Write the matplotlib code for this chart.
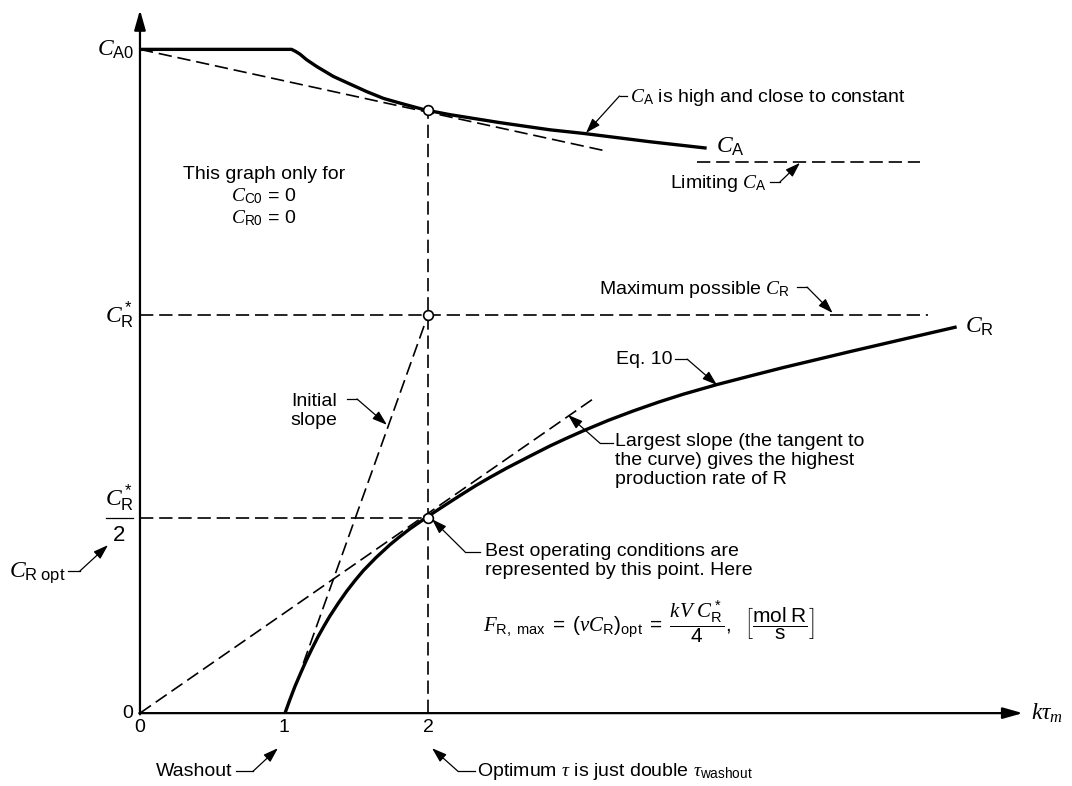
import matplotlib.pyplot as plt

plt.rcParams['font.family'] = ['Liberation Sans', 'DejaVu Sans']
plt.rcParams['mathtext.fontset'] = 'custom'
plt.rcParams['mathtext.rm'] = 'Liberation Sans'
plt.rcParams['mathtext.sf'] = 'Liberation Sans'
plt.rcParams['mathtext.it'] = 'Liberation Serif:italic'
plt.rcParams['mathtext.bf'] = 'Liberation Sans:bold'

# datos (x = k*tau_m, y en unidades de C_R*)
ca_x = [0.0, 1.053, 1.08, 1.111, 1.157, 1.227, 1.343, 1.458, 1.574, 1.69, 1.806, 1.979,
        2.153, 2.5, 2.847, 3.078, 3.542, 3.935]
ca_y = [1.667, 1.667, 1.662, 1.655, 1.641, 1.624, 1.599, 1.580, 1.561, 1.544, 1.532, 1.515,
        1.503, 1.483, 1.465, 1.456, 1.435, 1.419]

cr_x = [1.007, 1.04, 1.076, 1.12, 1.157, 1.20, 1.238, 1.28, 1.319, 1.377, 1.435, 1.493,
        1.551, 1.64, 1.736, 1.80, 1.875, 1.991, 2.1, 2.22, 2.33, 2.43, 2.55, 2.7,
        2.847, 2.96, 3.078, 3.25, 3.426, 3.6, 3.773, 4.005, 4.24, 4.468, 4.7, 4.931,
        5.3, 5.671]
cr_y = [0.0, 0.033, 0.067, 0.104, 0.134, 0.166, 0.193, 0.220, 0.244, 0.276, 0.306, 0.333,
        0.358, 0.391, 0.423, 0.442, 0.463, 0.492, 0.518, 0.546, 0.571, 0.592, 0.616, 0.644,
        0.671, 0.690, 0.709, 0.735, 0.759, 0.781, 0.801, 0.825, 0.847, 0.868, 0.888, 0.908,
        0.939, 0.970]

ca0 = 1.667
cr_star = 1.0
cr_opt = 0.49
ca_at_opt = 1.515
ca_limit = 1.384
k_tau_opt = 2.0

ca_tangent_x = [0.0, 3.22]
ca_tangent_y = [1.667, 1.413]
init_slope_x = [1.134, 2.0]
init_slope_y = [0.125, 1.0]
max_slope_x = [0.0, 3.15]
max_slope_y = [0.0, 0.79]
limit_x = [3.866, 5.417]
crmax_x = [0.0, 5.472]

tick_vals = [0, 1, 2]

fig = plt.figure(figsize=(10.72, 7.86), dpi=100)
ax = fig.add_axes([0, 0, 1, 1])
ax.set_xlim(-0.972, 6.472)
ax.set_ylim(-0.183, 1.791)
ax.axis('off')

fs = 14
fm = 17
dash = dict(color='k', lw=1.2, linestyle=(0, (8, 3.5)))
arr = dict(arrowstyle='-|>,head_length=0.45,head_width=0.15', color='k', lw=0.9,
           mutation_scale=20, shrinkA=0, shrinkB=0)
axis_arr = dict(arrowstyle='-|>,head_length=0.6,head_width=0.17', color='k',
                lw=1.6, mutation_scale=20, shrinkA=0, shrinkB=0)

# ejes
ax.annotate('', xy=(0, 1.766), xytext=(0, -0.003), arrowprops=axis_arr)
ax.annotate('', xy=(6.13, 0), xytext=(-0.005, 0), arrowprops=axis_arr)

# lineas auxiliares
ax.plot(ca_tangent_x, ca_tangent_y, **dash)
ax.plot(limit_x, [ca_limit, ca_limit], **dash)
ax.plot(crmax_x, [cr_star, cr_star], **dash)
ax.plot([0, k_tau_opt], [cr_opt, cr_opt], **dash)
ax.plot([k_tau_opt, k_tau_opt], [0, ca_at_opt], **dash)
ax.plot(init_slope_x, init_slope_y, **dash)
ax.plot(max_slope_x, max_slope_y, **dash)

# curvas
ax.plot(ca_x, ca_y, color='k', lw=2.4, solid_capstyle='butt', solid_joinstyle='round')
ax.plot(cr_x, cr_y, color='k', lw=2.4, solid_capstyle='butt', solid_joinstyle='round')

ax.plot([k_tau_opt] * 3, [ca_at_opt, cr_star, cr_opt], 'o', ms=7, mfc='white',
        mec='k', mew=1.2, zorder=5)

# etiquetas de ejes
ax.text(-0.04, ca0, r'$C_\mathrm{A0}$', fontsize=fm, ha='right', va='center')
ax.text(-0.04, cr_star, r'$C_\mathrm{R}^*$', fontsize=fm, ha='right', va='center')
ax.text(-0.142, 0.503, r'$C_\mathrm{R}^*$', fontsize=fm, ha='center', va='bottom')
ax.plot([-0.236, -0.049], [cr_opt, cr_opt], color='k', lw=0.9, clip_on=False)
ax.text(-0.142, 0.472, '2', fontsize=fs + 2, ha='center', va='top')
ax.text(-0.045, 0, '0', fontsize=fs, ha='right', va='center')
for t in tick_vals:
    ax.text(t, -0.015, str(t), fontsize=fs, ha='center', va='top')
ax.text(6.19, 0, r'$k\tau_m$', fontsize=fm, ha='left', va='center')

ax.text(0.861, 1.296, 'This graph only for\n' + r'$C_\mathrm{C0}$ = 0' + '\n' + r'$C_\mathrm{R0}$ = 0',
        fontsize=fs, ha='center', va='center', linespacing=1.2)


def note(text, pos, elbow, tip, ha='left', va='center', size=fs):
    ax.text(pos[0], pos[1], text, fontsize=size, ha=ha, va=va, linespacing=1.15)
    ax.plot([elbow[0][0], elbow[1][0]], [elbow[0][1], elbow[1][1]], color='k', lw=0.9)
    ax.annotate('', xy=tip, xytext=elbow[1], arrowprops=arr)


note(r'$C_\mathrm{R\ opt}$', (-0.91, 0.352), ((-0.5, 0.357), (-0.417, 0.357)), (-0.222, 0.422),
     size=fm)
note('Washout', (0.639, -0.146), ((0.667, -0.146), (0.785, -0.146)), (0.958, -0.088), ha='right')
note(r'Optimum $\tau$ is just double $\tau_\mathrm{washout}$', (2.34, -0.146),
     ((2.326, -0.146), (2.208, -0.146)), (2.028, -0.088))
note(r'$C_\mathrm{A}$ is high and close to constant', (3.40, 1.545),
     ((3.382, 1.55), (3.33, 1.55)), (3.097, 1.457))
note(r'Limiting $C_\mathrm{A}$', (4.354, 1.329), ((4.375, 1.334), (4.444, 1.334)), (4.583, 1.382),
     ha='right')
note(r'Maximum possible $C_\mathrm{R}$', (4.514, 1.065), ((4.563, 1.07), (4.632, 1.07)),
     (4.81, 1.005), ha='right')
note('Eq. 10', (3.70, 0.887), ((3.715, 0.889), (3.80, 0.889)), (4.007, 0.824), ha='right')
note('Initial\nslope', (1.21, 0.759), ((1.4375, 0.789), (1.507, 0.789)), (1.715, 0.724),
     ha='center')
note('Largest slope (the tangent to\nthe curve) gives the highest\nproduction rate of R',
     (3.30, 0.703), ((3.285, 0.678), (3.194, 0.678)), (2.972, 0.749), va='top')
note('Best operating conditions are\nrepresented by this point. Here', (2.396, 0.428),
     ((2.361, 0.405), (2.257, 0.405)), (2.028, 0.487), va='top')
ax.text(2.385, 0.229,
        r'$F_{\mathrm{R,\ max}}\ =\ (v C_\mathrm{R})_\mathrm{opt}\ =\ \dfrac{kV\ C_\mathrm{R}^*}{4},\ \ '
        r'\left[\dfrac{\mathrm{mol\ R}}{\mathrm{s}}\right]$',
        fontsize=15, ha='left', va='center')

ax.text(4.0, 1.422, r'$C_\mathrm{A}$', fontsize=fm, ha='left', va='center')
ax.text(5.73, 0.97, r'$C_\mathrm{R}$', fontsize=fm, ha='left', va='center')

fig.savefig('out.png', dpi=100)
plt.close()
